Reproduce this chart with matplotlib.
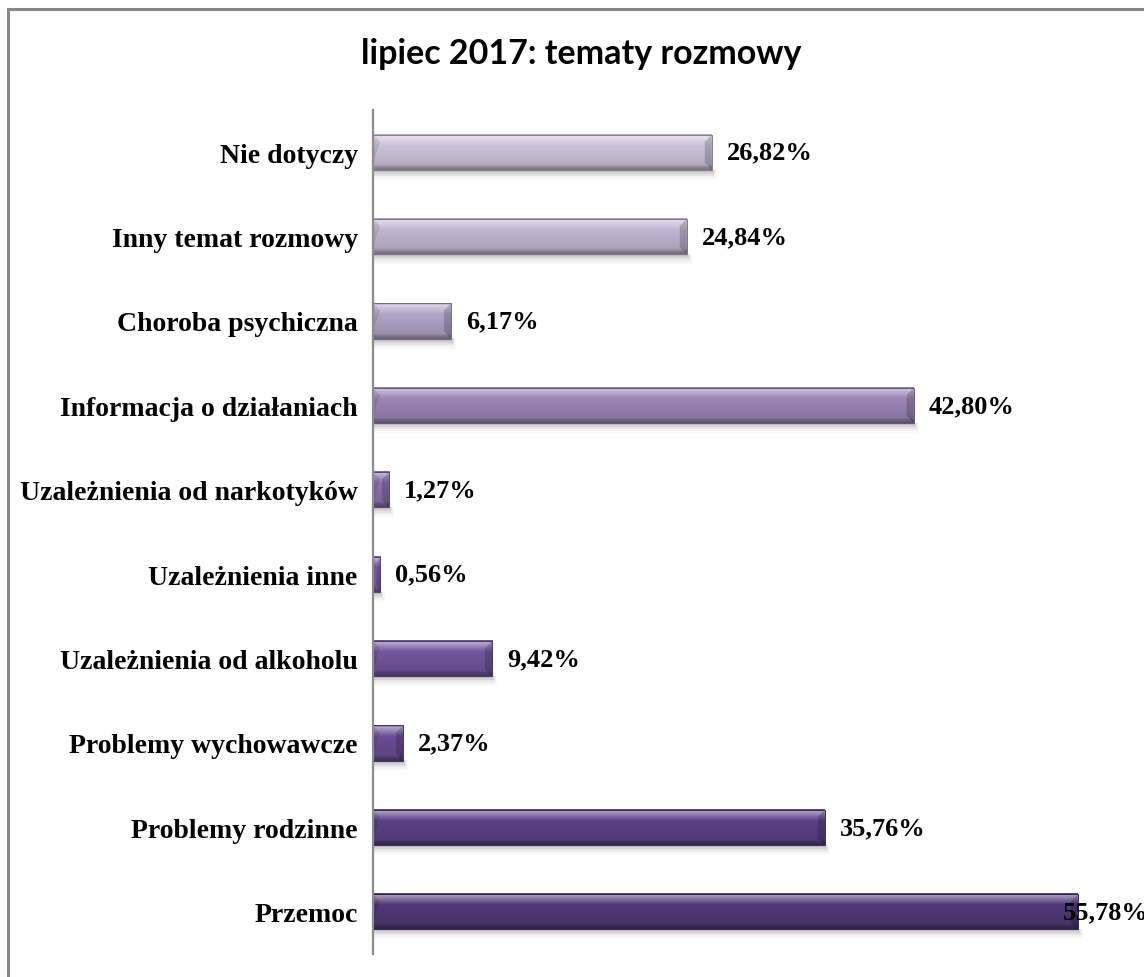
import matplotlib
matplotlib.use("Agg")
import matplotlib.pyplot as plt
from matplotlib.patches import Polygon, Rectangle
from matplotlib.colors import to_rgb
import numpy as np

# Topics listed top to bottom, with their shares (%)
categories = [
    "Nie dotyczy",
    "Inny temat rozmowy",
    "Choroba psychiczna",
    "Informacja o działaniach",
    "Uzależnienia od narkotyków",
    "Uzależnienia inne",
    "Uzależnienia od alkoholu",
    "Problemy wychowawcze",
    "Problemy rodzinne",
    "Przemoc",
]
values = [26.82, 24.84, 6.17, 42.80, 1.27, 0.56, 9.42, 2.37, 35.76, 55.78]
value_labels = ["26,82%", "24,84%", "6,17%", "42,80%", "1,27%",
                "0,56%", "9,42%", "2,37%", "35,76%", "55,78%"]
title = "lipiec 2017: tematy rozmowy"

# Bar colours, light lavender at the top to deep purple at the bottom
bar_colors = ["#cbc3d8", "#c1b6d2", "#b1a4c8", "#9a85b6", "#8a71ad",
              "#7d63a5", "#71569e", "#674d94", "#5a4285", "#503977"]

W, H, DPI = 1144, 978, 100
fig = plt.figure(figsize=(W / DPI, H / DPI), dpi=DPI)
fig.patch.set_facecolor("white")

# outer frame (left and top visible, the rest runs off the canvas)
fig.add_artist(Rectangle((7.5 / W, -0.2), 1.5, 1 - 9.5 / H + 0.2,
                         transform=fig.transFigure, fill=False,
                         edgecolor="#878787", linewidth=2.2))

ax_left, ax_right = 373, 1131
ax_top, ax_bot = 111, 955
ax = fig.add_axes([ax_left / W, 1 - ax_bot / H,
                   (ax_right - ax_left) / W, (ax_bot - ax_top) / H])
n = len(categories)
ypos = np.arange(n)[::-1]
xmax = 60.0

bar_h = 0.415
bars = ax.barh(ypos, values, height=bar_h, color=bar_colors,
               edgecolor="none", zorder=3)

px_x = (ax_right - ax_left) / xmax        # pixels per data unit (x)
px_y = (ax_bot - ax_top) / n              # pixels per data unit (y)


def mix(c, t, amt):
    c = np.array(to_rgb(c)); t = np.array(to_rgb(t))
    return c + (t - c) * amt


def shade_profile(col, m=64):
    """Vertical colour profile for a bevelled bar, top row first."""
    t = np.linspace(0, 1, m)
    stops = [(0.00, mix(col, "black", 0.15)),
             (0.05, mix(col, "white", 0.50)),
             (0.22, mix(col, "white", 0.18)),
             (0.32, mix(col, "black", 0.0)),
             (0.60, mix(col, "black", 0.06)),
             (0.86, mix(col, "black", 0.12)),
             (0.92, mix(col, "black", 0.30)),
             (1.00, mix(col, "black", 0.40))]
    pos = [s[0] for s in stops]
    out = np.zeros((m, 3))
    for ch in range(3):
        out[:, ch] = np.interp(t, pos, [s[1][ch] for s in stops])
    return out


for bar, col in zip(bars, bar_colors):
    x0 = bar.get_x(); x1 = x0 + bar.get_width()
    y0 = bar.get_y(); y1 = y0 + bar.get_height()
    bx = min(7 / px_x, (x1 - x0) / 2)
    by = 7 / px_y
    # soft drop shadow
    for k, a in enumerate([0.10, 0.07, 0.05, 0.03, 0.02]):
        d = (2 + 2 * k) / px_y
        e = (1 + k) / px_x
        ax.add_patch(Rectangle((x0, y0 - d), x1 - x0 + e, d + 0.001,
                               facecolor="black", alpha=a, edgecolor="none",
                               zorder=2))
    # shaded body
    prof = shade_profile(col)
    img = np.repeat(prof[:, None, :], 2, axis=1)
    ax.imshow(img, extent=(x0, x1, y0, y1), aspect="auto",
              interpolation="bilinear", zorder=3.2, origin="upper")
    # end bevels
    right = [(x1, y1), (x1, y0), (x1 - bx, y0 + by), (x1 - bx, y1 - by)]
    left_tri = [(x0, y1), (x0, y0 + by), (x0 + bx, y1 - by)]
    ax.add_patch(Polygon(right, closed=True, facecolor="black", alpha=0.18,
                         edgecolor="none", zorder=3.4))
    ax.add_patch(Polygon(left_tri, closed=True, facecolor="black", alpha=0.10,
                         edgecolor="none", zorder=3.4))
    ax.add_patch(Rectangle((x0, y0), x1 - x0, y1 - y0, fill=False,
                           edgecolor=mix(col, "black", 0.35), linewidth=0.7,
                           zorder=3.6))

ax.set_xlim(0, xmax)
ax.set_ylim(-0.5, n - 0.5)

# value labels at the bar ends (the longest one sits over its bar's end)
val_font = dict(family="Liberation Serif", fontweight="bold", fontsize=19)
for v, lab, y in zip(values, value_labels, ypos):
    x = min(v + 15 / px_x, (1063 - ax_left) / px_x)
    ax.text(x, y, lab, ha="left", va="center", color="black", zorder=5,
            clip_on=False, **val_font)

cat_font = dict(family="Liberation Serif", fontweight="bold", fontsize=20)
ax.set_yticks(ypos)
ax.set_yticklabels(categories, **cat_font)
ax.tick_params(axis="y", length=0, pad=11)
ax.set_xticks([])
for s in ["top", "right", "bottom"]:
    ax.spines[s].set_visible(False)
ax.spines["left"].set_color("#8c8c8c")
ax.spines["left"].set_linewidth(1.6)
ax.spines["left"].set_zorder(6)
ax.set_facecolor("none")

fig.text(581 / W, 1 - 54 / H, title, ha="center", va="center",
         fontsize=24.5, fontweight="bold", family="Lato")

fig.savefig("out.png", dpi=DPI)
